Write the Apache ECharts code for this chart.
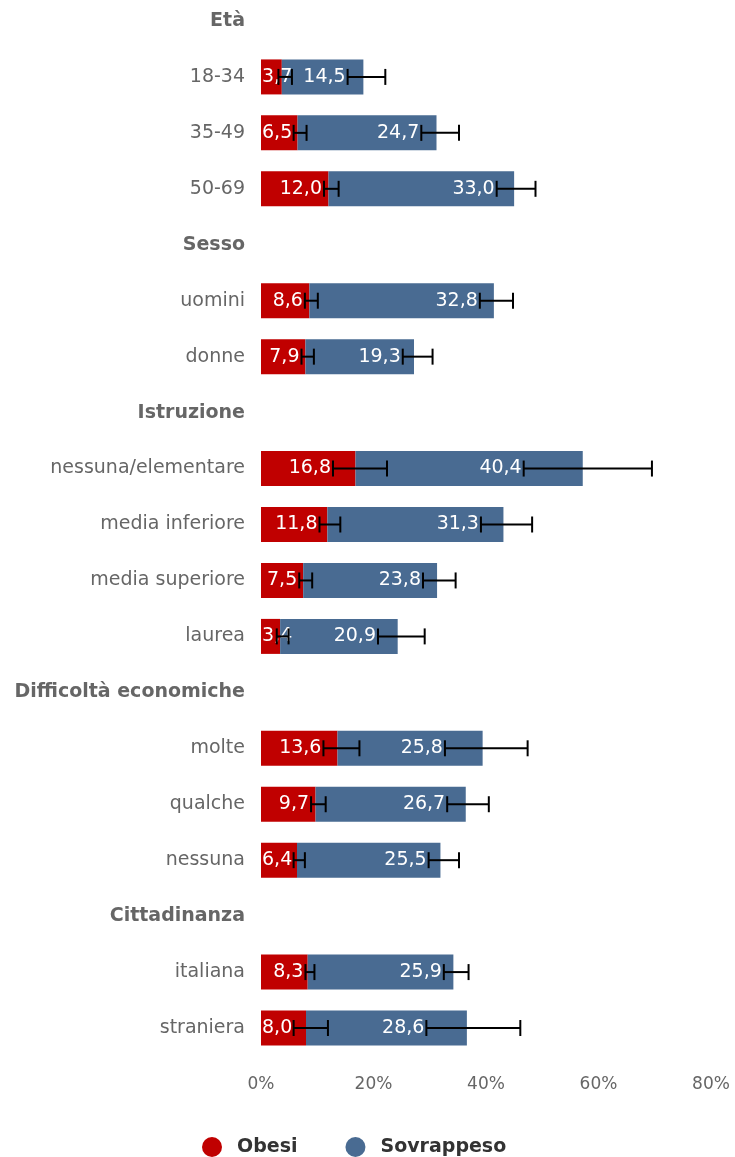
<!DOCTYPE html>
<html>
<head>
<meta charset="utf-8">
<script src="https://cdn.jsdelivr.net/npm/echarts@6/dist/echarts.min.js"></script>
<style>
  html, body { margin: 0; padding: 0; background: #ffffff; overflow: hidden; }
  /* the plot starts slightly above the page edge, so the canvas is lifted by 8px */
  #chart { position: relative; top: -8px; width: 735px; height: 1165px; }
</style>
</head>
<body>
<div id="chart"></div>
<script>
// Row labels, top to bottom; group headings carry no bars
const categories = ['Età', '18-34', '35-49', '50-69', 'Sesso', 'uomini', 'donne',
  'Istruzione', 'nessuna/elementare', 'media inferiore', 'media superiore', 'laurea',
  'Difficoltà economiche', 'molte', 'qualche', 'nessuna',
  'Cittadinanza', 'italiana', 'straniera'];
const headers = ['Età', 'Sesso', 'Istruzione', 'Difficoltà economiche', 'Cittadinanza'];

// Prevalence (%)
const obesi      = [null, 3.7, 6.5, 12.0, null, 8.6, 7.9, null, 16.8, 11.8, 7.5, 3.4, null, 13.6, 9.7, 6.4, null, 8.3, 8.0];
const sovrappeso = [null, 14.5, 24.7, 33.0, null, 32.8, 19.3, null, 40.4, 31.3, 23.8, 20.9, null, 25.8, 26.7, 25.5, null, 25.9, 28.6];

// Confidence intervals (%)
const obesiLow  = [null, 3.1, 5.8, 11.2, null, 7.8, 7.2, null, 12.8, 10.4, 6.8, 2.8, null, 11.1, 8.9, 5.8, null, 7.9, 5.8];
const obesiHigh = [null, 5.5, 8.1, 13.8, null, 10.1, 9.4, null, 22.4, 14.1, 9.1, 4.9, null, 17.5, 11.5, 7.8, null, 9.5, 11.9];
const sovrLow   = [null, 11.7, 22.0, 29.9, null, 30.3, 17.3, null, 29.9, 27.3, 21.3, 17.4, null, 19.1, 23.4, 23.4, null, 24.2, 21.4];
const sovrHigh  = [null, 18.4, 28.7, 36.8, null, 36.2, 22.6, null, 52.7, 36.4, 27.1, 25.7, null, 33.8, 30.8, 28.8, null, 28.6, 38.1];

const xTicks = [0, 20, 40, 60, 80];

const RED = '#c00000';
const BLUE = '#496b92';
const FONT = 'DejaVu Sans';
const LABEL_SIZE = 19;

const measureCtx = document.createElement('canvas').getContext('2d');
measureCtx.font = LABEL_SIZE + 'px "' + FONT + '"';
const fmt = v => v.toFixed(1).replace('.', ',');

// Error-bar + value-label rows, in stacked coordinates
function errorRows(values, lows, highs, base) {
  const rows = [];
  values.forEach((v, i) => {
    if (v == null) return;
    const b = base ? base[i] : 0;
    rows.push([i, b + lows[i], b + highs[i], b + v, v]);
  });
  return rows;
}

function renderError(params, api) {
  const idx = api.value(0);
  const lo = api.coord([api.value(1), idx]);
  const hi = api.coord([api.value(2), idx]);
  const zero = api.coord([0, idx]);
  const y = lo[1];
  const text = fmt(api.value(4));
  const w = measureCtx.measureText(text).width;
  const textX = Math.max(lo[0] - 2, zero[0] + w + 1);
  const cap = 8;
  const lineStyle = { stroke: '#000000', lineWidth: 2 };
  return {
    type: 'group',
    children: [
      { type: 'text', style: { x: textX, y: y, text: text, fill: '#ffffff',
          font: LABEL_SIZE + 'px "' + FONT + '"', align: 'right', verticalAlign: 'middle' } },
      { type: 'line', shape: { x1: lo[0], y1: y, x2: hi[0], y2: y }, style: lineStyle },
      { type: 'line', shape: { x1: lo[0], y1: y - cap, x2: lo[0], y2: y + cap }, style: lineStyle },
      { type: 'line', shape: { x1: hi[0], y1: y - cap, x2: hi[0], y2: y + cap }, style: lineStyle }
    ]
  };
}

const chart = echarts.init(document.getElementById('chart'), null, { renderer: 'canvas' });

chart.setOption({
  animation: false,
  textStyle: { fontFamily: FONT },
  grid: { left: 261, right: 24, top: 1, height: 1063 },
  xAxis: {
    type: 'value', min: xTicks[0], max: xTicks[xTicks.length - 1], interval: 20,
    axisLine: { show: false }, axisTick: { show: false }, splitLine: { show: false },
    axisLabel: { formatter: '{value}%', color: '#666666', fontSize: 17, margin: 20, fontFamily: FONT }
  },
  yAxis: {
    type: 'category', data: categories, inverse: true,
    axisLine: { show: false }, axisTick: { show: false },
    axisLabel: {
      margin: 16,
      formatter: v => headers.includes(v) ? '{h|' + v + '}' : '{c|' + v + '}',
      rich: {
        h: { fontSize: 19, fontWeight: 'bold', color: '#666666', fontFamily: FONT },
        c: { fontSize: 19, color: '#666666', fontFamily: FONT }
      }
    }
  },
  legend: {
    data: ['Obesi', 'Sovrappeso'],
    left: 197, top: 1140,
    icon: 'circle', itemWidth: 40, itemHeight: 20, itemGap: 48,
    textStyle: { fontSize: 19, fontWeight: 'bold', color: '#333333', fontFamily: FONT }
  },
  series: [
    { name: 'Obesi', type: 'bar', stack: 'tot', data: obesi, barWidth: 35,
      itemStyle: { color: RED }, z: 2 },
    { name: 'Sovrappeso', type: 'bar', stack: 'tot', data: sovrappeso, barWidth: 35,
      itemStyle: { color: BLUE }, z: 2 },
    { type: 'custom', name: 'errSovr', data: errorRows(sovrappeso, sovrLow, sovrHigh, obesi),
      encode: { x: [1, 2, 3], y: 0 }, renderItem: renderError, z: 5, silent: true },
    { type: 'custom', name: 'errObesi', data: errorRows(obesi, obesiLow, obesiHigh, null),
      encode: { x: [1, 2, 3], y: 0 }, renderItem: renderError, z: 6, silent: true }
  ]
});
</script>
</body>
</html>
